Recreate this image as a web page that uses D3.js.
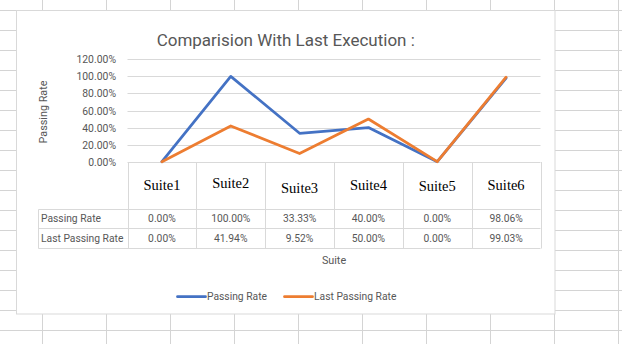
<!DOCTYPE html>
<html>
<head>
<meta charset="utf-8">
<script src="https://cdn.jsdelivr.net/npm/d3@7"></script>
<style>
  html, body { margin: 0; padding: 0; background: #fff; overflow: hidden; }
  svg { display: block; }
</style>
</head>
<body>
<svg id="chart" width="622" height="344"></svg>
<script>
// ---- data ----
const categories = ["Suite1", "Suite2", "Suite3", "Suite4", "Suite5", "Suite6"];
const passingRate = [0, 1.0, 0.3333, 0.40, 0, 0.9806];
const lastPassingRate = [0, 0.4194, 0.0952, 0.50, 0, 0.9903];
const seriesNames = ["Passing Rate", "Last Passing Rate"];
const yTicks = [0, 0.2, 0.4, 0.6, 0.8, 1.0, 1.2];
const chartTitle = "Comparision With Last Execution :";
const xTitle = "Suite";
const yTitle = "Passing Rate";

// ---- styling ----
const W = 622, H = 344;
const colors = ["#4472C4", "#ED7D31"];
const textGray = "#575757";
const lineGray = "#d9d9d9";
const sheetGray = "#d4d4d4";
const sans = "Roboto, 'Liberation Sans', sans-serif";
const serif = "'Liberation Serif', 'Times New Roman', serif";
// small vertical nudges of the header cells' rich text
const headerNudge = [0, -2.5, 2.5, -0.5, 0.5, -0.5];

const svg = d3.select("#chart");
const pct = d3.format(".2%");

// ---- worksheet background grid ----
const sheet = svg.append("g");
sheet.append("rect").attr("width", W).attr("height", H).attr("fill", "#fff");
sheet.selectAll("line.row").data(d3.range(0, 17)).join("line")
  .attr("x1", 0).attr("x2", W)
  .attr("y1", k => 10.5 + 20 * k).attr("y2", k => 10.5 + 20 * k)
  .attr("stroke", sheetGray).attr("stroke-width", 1);
sheet.selectAll("line.col").data(d3.range(0, 10)).join("line")
  .attr("y1", 0).attr("y2", H)
  .attr("x1", k => 42.5 + 64 * k).attr("x2", k => 42.5 + 64 * k)
  .attr("stroke", sheetGray).attr("stroke-width", 1);

// ---- chart area ----
const box = { x: 16.5, y: 10.5, w: 538.5, h: 303.5 };
svg.append("rect")
  .attr("x", box.x).attr("y", box.y).attr("width", box.w).attr("height", box.h)
  .attr("fill", "#fff").attr("stroke", lineGray).attr("stroke-width", 1);

svg.append("text")
  .attr("x", box.x + box.w / 2).attr("y", 45.5)
  .attr("text-anchor", "middle")
  .attr("font-family", sans).attr("font-size", 17)
  .attr("fill", textGray)
  .text(chartTitle);

// ---- scales ----
const plotLeft = 127.5, plotRight = 540.5;
const x = d3.scaleBand().domain(categories).range([plotLeft, plotRight]);
const y = d3.scaleLinear().domain([0, 1.2]).range([161.7, 59.3]);

// gridlines
svg.append("g").selectAll("line").data(yTicks).join("line")
  .attr("x1", plotLeft).attr("x2", plotRight)
  .attr("y1", d => Math.round(y(d)) + 0.5).attr("y2", d => Math.round(y(d)) + 0.5)
  .attr("stroke", lineGray).attr("stroke-width", 1);

// y axis labels
const yAxis = d3.axisLeft(y).tickValues(yTicks).tickFormat(pct).tickSize(0).tickPadding(0);
const yAxisG = svg.append("g").attr("transform", "translate(116,0)").call(yAxis);
yAxisG.select(".domain").remove();
yAxisG.selectAll("text")
  .attr("font-family", sans).attr("font-size", 10.4)
  .attr("fill", textGray).attr("dy", "0.34em");

svg.append("text")
  .attr("transform", "translate(46.5,112) rotate(-90)")
  .attr("text-anchor", "middle")
  .attr("font-family", sans).attr("font-size", 10.8)
  .attr("fill", textGray)
  .text(yTitle);

// ---- data table under the plot ----
const tableTop = 162, headBottom = 209.5, row1Bottom = 228.5, row2Bottom = 248.5, tableLeft = 38.5;
const tbl = svg.append("g");
const edges = categories.map(c => x(c)).concat([plotRight]);
tbl.selectAll("line.v").data(edges).join("line")
  .attr("x1", d => Math.round(d) + 0.5).attr("x2", d => Math.round(d) + 0.5)
  .attr("y1", tableTop).attr("y2", row2Bottom)
  .attr("stroke", lineGray);
tbl.selectAll("line.h").data([headBottom, row1Bottom, row2Bottom]).join("line")
  .attr("x1", tableLeft).attr("x2", plotRight)
  .attr("y1", d => d).attr("y2", d => d)
  .attr("stroke", lineGray);
tbl.append("line")
  .attr("x1", tableLeft).attr("x2", tableLeft)
  .attr("y1", headBottom).attr("y2", row2Bottom)
  .attr("stroke", lineGray);

// header cells (category names)
const xAxis = d3.axisBottom(x).tickSize(0).tickPadding(0);
const xAxisG = svg.append("g").attr("transform", `translate(0,${tableTop})`).call(xAxis);
xAxisG.select(".domain").remove();
xAxisG.selectAll("text")
  .attr("font-family", serif).attr("font-size", 14.5)
  .attr("fill", "#000")
  .attr("dy", 0)
  .attr("y", (d, i) => 28 + headerNudge[i]);

// series rows
const rows = [passingRate, lastPassingRate];
const rowBase = [222.3, 242];
rows.forEach((vals, r) => {
  tbl.append("text")
    .attr("x", 41).attr("y", rowBase[r])
    .attr("font-family", sans).attr("font-size", 10.3)
    .attr("fill", textGray)
    .text(seriesNames[r]);
  tbl.selectAll(null).data(vals).join("text")
    .attr("x", (d, i) => x(categories[i]) + x.bandwidth() / 2)
    .attr("y", rowBase[r])
    .attr("text-anchor", "middle")
    .attr("font-family", sans).attr("font-size", 10.3)
    .attr("fill", textGray)
    .text(d => pct(d));
});

svg.append("text")
  .attr("x", (plotLeft + plotRight) / 2).attr("y", 264)
  .attr("text-anchor", "middle")
  .attr("font-family", sans).attr("font-size", 10.8)
  .attr("fill", textGray)
  .text(xTitle);

// ---- lines ----
const line = d3.line()
  .x((d, i) => x(categories[i]) + x.bandwidth() / 2)
  .y(d => y(d));
rows.forEach((vals, r) => {
  svg.append("path")
    .datum(vals)
    .attr("d", line)
    .attr("fill", "none")
    .attr("stroke", colors[r])
    .attr("stroke-width", 2.75)
    .attr("stroke-linejoin", "round")
    .attr("stroke-linecap", "round");
});

// ---- legend ----
const legendY = 296.7;
const legendItems = [{ x: 177.5, name: seriesNames[0] }, { x: 284.5, name: seriesNames[1] }];
const lg = svg.append("g");
legendItems.forEach((it, r) => {
  lg.append("line")
    .attr("x1", it.x).attr("x2", it.x + 28)
    .attr("y1", legendY).attr("y2", legendY)
    .attr("stroke", colors[r]).attr("stroke-width", 2.75)
    .attr("stroke-linecap", "round");
  lg.append("text")
    .attr("x", it.x + 29.5).attr("y", legendY + 3.7)
    .attr("font-family", sans).attr("font-size", 10.3)
    .attr("fill", textGray)
    .text(it.name);
});
</script>
</body>
</html>
